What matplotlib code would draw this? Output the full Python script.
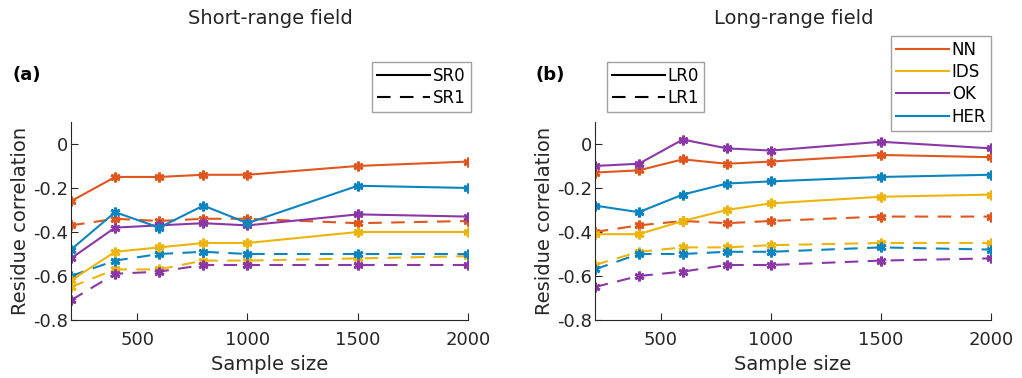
import numpy as np
import matplotlib
matplotlib.use('Agg')
import matplotlib.pyplot as plt
from matplotlib.lines import Line2D

sample_size = [200, 400, 600, 800, 1000, 1500, 2000]
methods = ['NN', 'IDS', 'OK', 'HER']
colors = ['#E0561F', '#EDB50C', '#8B38A6', '#0C84C0']

# short-range field, SR0 (solid) and SR1 (dashed)
sr0 = {
    'NN':  [-0.26, -0.15, -0.15, -0.14, -0.14, -0.10, -0.08],
    'IDS': [-0.62, -0.49, -0.47, -0.45, -0.45, -0.40, -0.40],
    'OK':  [-0.52, -0.38, -0.37, -0.36, -0.37, -0.32, -0.33],
    'HER': [-0.48, -0.31, -0.38, -0.28, -0.36, -0.19, -0.20],
}
sr1 = {
    'NN':  [-0.37, -0.34, -0.35, -0.34, -0.34, -0.36, -0.35],
    'IDS': [-0.65, -0.57, -0.57, -0.53, -0.53, -0.52, -0.51],
    'OK':  [-0.71, -0.59, -0.58, -0.55, -0.55, -0.55, -0.55],
    'HER': [-0.60, -0.53, -0.50, -0.49, -0.50, -0.50, -0.50],
}
# long-range field, LR0 (solid) and LR1 (dashed)
lr0 = {
    'NN':  [-0.13, -0.12, -0.07, -0.09, -0.08, -0.05, -0.06],
    'IDS': [-0.41, -0.41, -0.35, -0.30, -0.27, -0.24, -0.23],
    'OK':  [-0.10, -0.09, 0.02, -0.02, -0.03, 0.01, -0.02],
    'HER': [-0.28, -0.31, -0.23, -0.18, -0.17, -0.15, -0.14],
}
lr1 = {
    'NN':  [-0.40, -0.37, -0.35, -0.36, -0.35, -0.33, -0.33],
    'IDS': [-0.55, -0.49, -0.47, -0.47, -0.46, -0.45, -0.45],
    'OK':  [-0.65, -0.60, -0.58, -0.55, -0.55, -0.53, -0.52],
    'HER': [-0.57, -0.50, -0.50, -0.49, -0.49, -0.47, -0.48],
}

plt.rcParams['font.family'] = ['DejaVu Sans']
star = (6, 2, 0)
dash = (0, (6.5, 4.5))
ink = '#262626'

fig = plt.figure(figsize=(10.22, 3.78), dpi=100)
ax1 = fig.add_axes([0.0695, 0.1534, 0.3885, 0.524])
ax2 = fig.add_axes([0.582, 0.1534, 0.3875, 0.524])


def draw(ax, solid, dashed):
    for m, c in zip(methods, colors):
        ax.plot(sample_size, dashed[m], color=c, lw=1.5, ls=dash,
                marker=star, ms=7, mew=2)
    for m, c in zip(methods, colors):
        ax.plot(sample_size, solid[m], '-', color=c, lw=1.5,
                marker=star, ms=7, mew=2)
    ax.set_xlim(200, 2000)
    ax.set_ylim(-0.8, 0.1)
    ax.set_xticks([500, 1000, 1500, 2000])
    ax.set_yticks([-0.8, -0.6, -0.4, -0.2, 0])
    ax.set_yticklabels(['-0.8', '-0.6', '-0.4', '-0.2', '0'])
    ax.spines['top'].set_visible(False)
    ax.spines['right'].set_visible(False)
    for s in ['left', 'bottom']:
        ax.spines[s].set_color(ink)
        ax.spines[s].set_linewidth(0.8)
    ax.tick_params(direction='in', length=5, width=0.8, labelsize=13,
                   colors=ink)
    ax.tick_params(axis='x', pad=8)
    ax.tick_params(axis='y', pad=2)
    ax.set_xlabel('Sample size', fontsize=14, color=ink)
    ax.set_ylabel('Residue correlation', fontsize=14, color=ink, labelpad=2)


def box_legend(handles, labels, x, y):
    fig.legend(handles, labels, loc='upper left',
               bbox_to_anchor=(x / 1022, 1 - y / 378),
               fontsize=12, frameon=True, fancybox=False, edgecolor='#888888',
               handlelength=3.2, handletextpad=0.15, borderpad=0.3,
               labelspacing=0.25, borderaxespad=0)


style_h = [Line2D([], [], color='k', lw=1.5, ls='-'),
           Line2D([], [], color='k', lw=1.5, ls=dash)]

draw(ax1, sr0, sr1)
box_legend(style_h, ['SR0', 'SR1'], 372, 62)
draw(ax2, lr0, lr1)
box_legend(style_h, ['LR0', 'LR1'], 607, 62)

ch = [Line2D([], [], color=c, lw=1.5) for c in colors]
box_legend(ch, methods, 891, 36)

fig.text(270 / 1022, 1 - 18 / 378, 'Short-range field', ha='center', va='center',
         fontsize=14, color=ink)
fig.text(794 / 1022, 1 - 18 / 378, 'Long-range field', ha='center', va='center',
         fontsize=14, color=ink)
fig.text(12 / 1022, 1 - 75 / 378, '(a)', ha='left', va='center', fontsize=13,
         fontweight='bold')
fig.text(535 / 1022, 1 - 75 / 378, '(b)', ha='left', va='center', fontsize=13,
         fontweight='bold')

fig.savefig('out.png', dpi=100)
